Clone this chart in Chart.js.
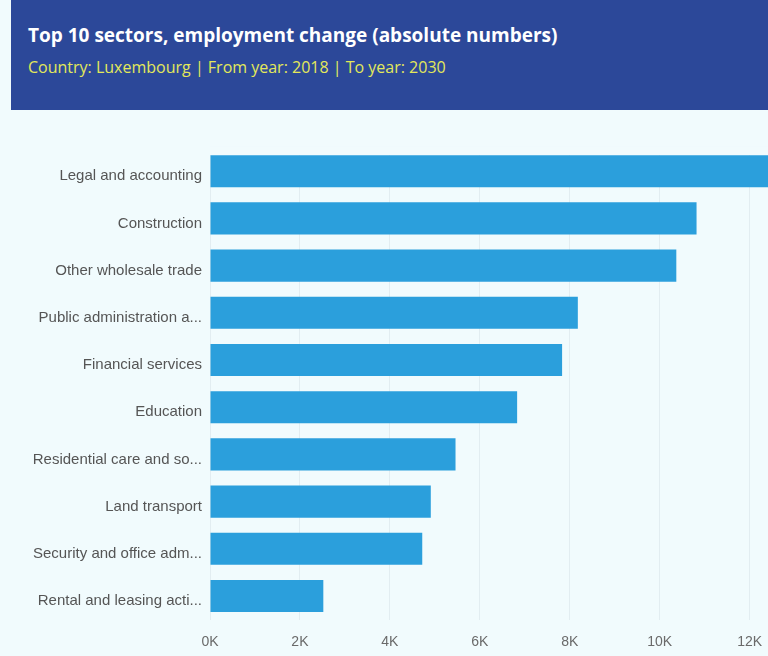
<!DOCTYPE html>
<html>
<head>
<meta charset="utf-8">
<script src="https://cdn.jsdelivr.net/npm/chart.js@4"></script>
<style>
  html, body { margin: 0; padding: 0; width: 768px; height: 656px; overflow: hidden; background: #f1fbfd; }
  #header { position: absolute; left: 11px; top: 0; width: 757px; height: 110px; background: #2c4899; }
  #title { position: absolute; left: 17px; top: 22px; font-family: "Open Sans", sans-serif; font-weight: 700; font-size: 19px; color: #ffffff; white-space: nowrap; }
  #subtitle { position: absolute; left: 17px; top: 56px; font-family: "Open Sans", sans-serif; font-size: 16px; color: #e3e85a; white-space: nowrap; }
  #wrap { position: absolute; left: 0; top: 110px; width: 866px; height: 546px; }
</style>
</head>
<body>
<div id="header">
  <div id="title">Top 10 sectors, employment change (absolute numbers)</div>
  <div id="subtitle">Country: Luxembourg | From year: 2018 | To year: 2030</div>
</div>
<div id="wrap"><canvas id="c"></canvas></div>
<script>
const categories = [
  "Legal and accounting",
  "Construction",
  "Other wholesale trade",
  "Public administration a...",
  "Financial services",
  "Education",
  "Residential care and so...",
  "Land transport",
  "Security and office adm...",
  "Rental and leasing acti..."
];
const employmentChange = [12900, 10820, 10370, 8180, 7830, 6830, 5460, 4910, 4720, 2520];
const xTickStep = 2000;

const BG = '#f1fbfd';
const BAR_PCT = 0.68;

// hide grid above the first bar (as in the reference)
const trimGridTop = {
  id: 'trimGridTop',
  beforeDatasetsDraw(chart) {
    const { ctx, chartArea, scales } = chart;
    const step = (chartArea.bottom - chartArea.top) / categories.length;
    const gap = step * (1 - BAR_PCT) / 2;
    ctx.save();
    ctx.fillStyle = BG;
    ctx.fillRect(chartArea.left, chartArea.top - 1, chartArea.right - chartArea.left + 2, gap + 1);
    ctx.restore();
  }
};

new Chart(document.getElementById('c'), {
  type: 'bar',
  data: {
    labels: categories,
    datasets: [{
      data: employmentChange,
      backgroundColor: '#2b9fdc',
      borderWidth: 0,
      categoryPercentage: 1,
      barPercentage: BAR_PCT
    }]
  },
  plugins: [trimGridTop],
  options: {
    indexAxis: 'y',
    responsive: true,
    maintainAspectRatio: false,
    animation: false,
    layout: { padding: { top: 37.6, right: 0, bottom: 0, left: 0 } },
    plugins: { legend: { display: false }, tooltip: { enabled: false } },
    scales: {
      x: {
        min: 0,
        max: 14000,
        ticks: {
          stepSize: xTickStep,
          padding: 14,
          color: '#6a6a6a',
          font: { family: 'Liberation Sans, Arial, sans-serif', size: 14 },
          callback: v => (v / 1000) + 'K'
        },
        grid: { color: '#e2edf1', drawTicks: false },
        border: { display: false },
        afterFit: s => { s.height = 36.4; }
      },
      y: {
        ticks: {
          padding: 8,
          labelOffset: 5,
          color: '#555555',
          font: { family: 'Liberation Sans, Arial, sans-serif', size: 15 }
        },
        grid: { display: false, drawTicks: false },
        border: { display: false },
        afterFit: s => { s.width = 210; }
      }
    }
  }
});
</script>
</body>
</html>
